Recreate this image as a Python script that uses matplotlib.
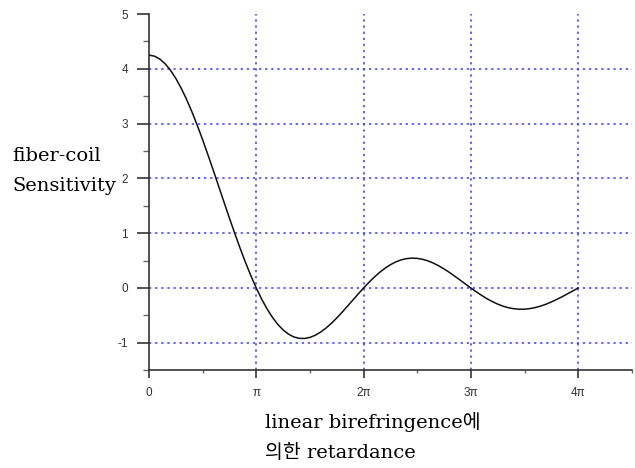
import matplotlib
matplotlib.use('Agg')
import matplotlib.pyplot as plt
from matplotlib.ticker import MultipleLocator

# retardance in units of pi, sensitivity
retard_pi = [0.00, 0.05, 0.10, 0.15, 0.20, 0.25, 0.30, 0.35, 0.40, 0.45,
             0.50, 0.55, 0.60, 0.65, 0.70, 0.75, 0.80, 0.85, 0.90, 0.95,
             1.00, 1.05, 1.10, 1.15, 1.20, 1.25, 1.30, 1.35, 1.40, 1.45,
             1.50, 1.55, 1.60, 1.65, 1.70, 1.75, 1.80, 1.85, 1.90, 1.95,
             2.00, 2.05, 2.10, 2.15, 2.20, 2.25, 2.30, 2.35, 2.40, 2.45,
             2.50, 2.55, 2.60, 2.65, 2.70, 2.75, 2.80, 2.85, 2.90, 2.95,
             3.00, 3.05, 3.10, 3.15, 3.20, 3.25, 3.30, 3.35, 3.40, 3.45,
             3.50, 3.55, 3.60, 3.65, 3.70, 3.75, 3.80, 3.85, 3.90, 3.95,
             4.00]
sensitivity = [4.250, 4.232, 4.180, 4.094, 3.976, 3.826, 3.648, 3.444, 3.217, 2.969,
               2.706, 2.429, 2.144, 1.854, 1.563, 1.275, 0.994, 0.723, 0.464, 0.223,
               0.000, -0.202, -0.380, -0.534, -0.663, -0.765, -0.842, -0.893, -0.919, -0.921,
               -0.902, -0.862, -0.804, -0.731, -0.644, -0.547, -0.442, -0.332, -0.220, -0.109,
               0.000, 0.103, 0.199, 0.286, 0.361, 0.425, 0.476, 0.513, 0.536, 0.545,
               0.541, 0.524, 0.495, 0.455, 0.405, 0.348, 0.284, 0.215, 0.144, 0.072,
               0.000, -0.069, -0.135, -0.195, -0.248, -0.294, -0.332, -0.360, -0.378, -0.387,
               -0.387, -0.376, -0.357, -0.330, -0.296, -0.255, -0.209, -0.160, -0.107, -0.054,
               0.000]

x_ticks = [0, 1, 2, 3, 4]
x_tick_labels = ['0', 'π', '2π', '3π', '4π']
y_ticks = [-1, 0, 1, 2, 3, 4, 5]

plt.rcParams['font.family'] = ['Liberation Sans', 'Noto Sans CJK KR', 'DejaVu Sans']
plt.rcParams['axes.unicode_minus'] = False
label_fonts = ['DejaVu Serif', 'Noto Sans CJK KR', 'DejaVu Sans']

fig = plt.figure(figsize=(6.35, 4.68), dpi=100)
ax = fig.add_axes([0.2346, 0.209, 0.7604, 0.761])

ax.plot(retard_pi, sensitivity, color='#111111', linewidth=1.1, zorder=3)

ax.set_xlim(0, 4.5)
ax.set_ylim(-1.5, 5)
ax.set_xticks(x_ticks)
ax.set_xticklabels(x_tick_labels)
ax.set_yticks(y_ticks)
ax.xaxis.set_minor_locator(MultipleLocator(0.5))
ax.yaxis.set_minor_locator(MultipleLocator(0.5))

for side in ['top', 'right']:
    ax.spines[side].set_visible(False)
for side in ['left', 'bottom']:
    ax.spines[side].set_color('#333333')
    ax.spines[side].set_linewidth(1.2)

ax.tick_params(axis='y', which='major', direction='out', length=9, width=1.2,
               labelsize=8.5, pad=6, colors='#333333')
ax.tick_params(axis='y', which='minor', direction='out', length=4, width=1, colors='#666666')
ax.tick_params(axis='x', which='major', direction='out', length=6, width=1.2,
               labelsize=8.5, pad=6, colors='#333333')
ax.tick_params(axis='x', which='minor', direction='out', length=2, width=1, colors='#666666')

ax.grid(True, which='major', color='#3a3aff', linestyle=(0, (1.5, 2.5)), linewidth=1.1)
ax.xaxis.get_gridlines()[0].set_visible(False)
ax.yaxis.get_gridlines()[-1].set_visible(False)

fig.text(12 / 635, 1 - 171 / 468, 'fiber-coil\nSensitivity', fontsize=14,
         family=label_fonts, ha='left', va='center', linespacing=1.85)
fig.text(265 / 635, 1 - 437 / 468, 'linear birefringence에\n의한 retardance', fontsize=14,
         family=label_fonts, ha='left', va='center', linespacing=1.8)

fig.savefig('out.png', dpi=100)
